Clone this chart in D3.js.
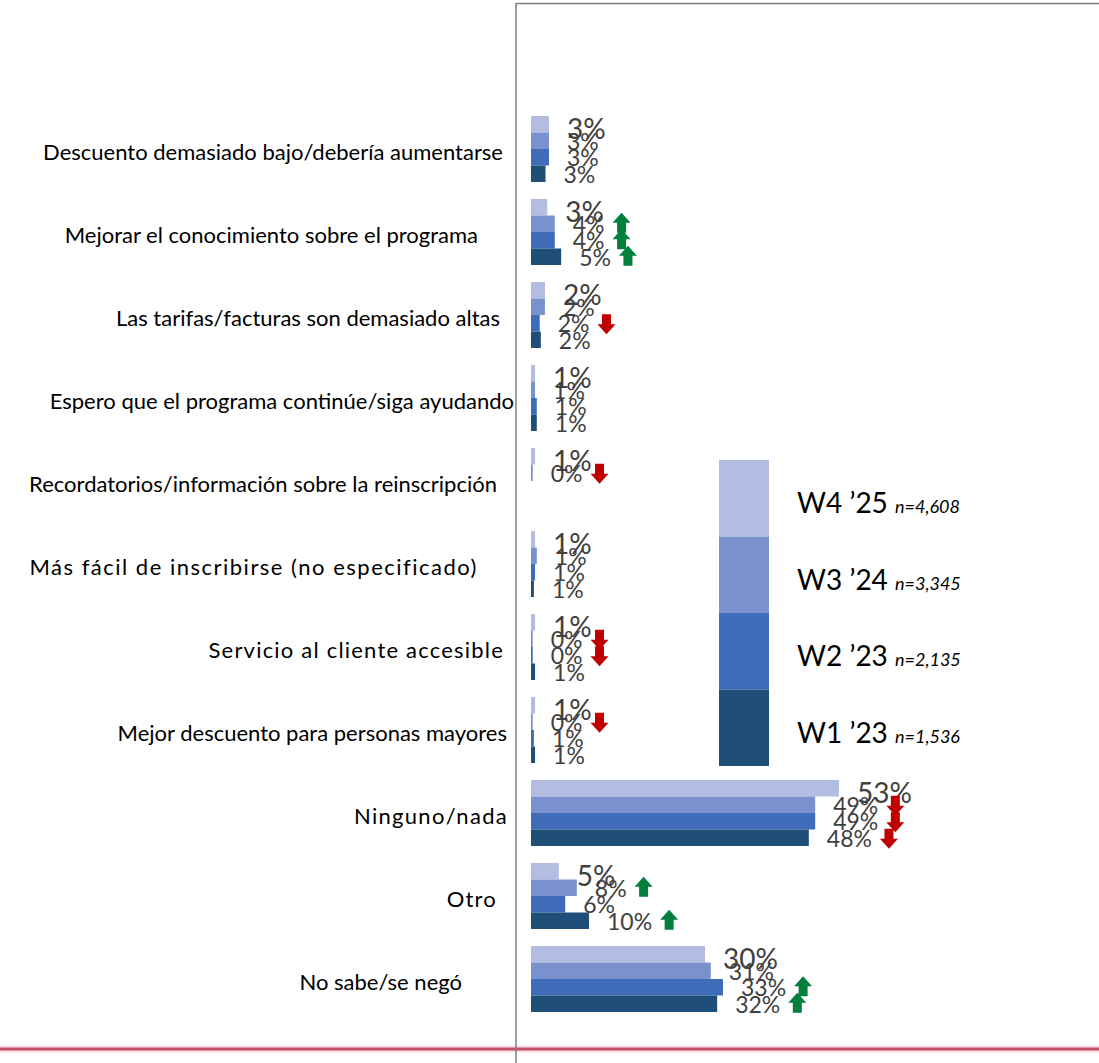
<!DOCTYPE html>
<html>
<head>
<meta charset="utf-8">
<script src="https://cdn.jsdelivr.net/npm/d3@7"></script>
<style>
  body { margin: 0; background: #fff; }
  svg { display: block; font-family: Lato, "Open Sans", sans-serif; }
</style>
</head>
<body>
<svg id="chart" width="1099" height="1063"></svg>
<script>
// categories, top to bottom
const categories = [
  "Descuento demasiado bajo/debería aumentarse",
  "Mejorar el conocimiento sobre el programa",
  "Las tarifas/facturas son demasiado altas",
  "Espero que el programa continúe/siga ayudando",
  "Recordatorios/información sobre la reinscripción",
  "Más fácil de inscribirse (no especificado)",
  "Servicio al cliente accesible",
  "Mejor descuento para personas mayores",
  "Ninguno/nada",
  "Otro",
  "No sabe/se negó"
];
const series = ["W4 \u201925", "W3 \u201924", "W2 \u201923", "W1 \u201923"];
const seriesN = ["n=4,608", "n=3,345", "n=2,135", "n=1,536"];

// percent values per wave (null = not asked)
const w4 = [3.1, 2.8, 2.4, 0.7, 0.7, 0.7, 0.7, 0.7, 53.1, 4.8, 30.0];
const w3 = [3.1, 4.1, 2.4, 0.7, 0.3, 1.0, 0.3, 0.3, 49.0, 7.9, 31.0];
const w2 = [3.1, 4.1, 1.5, 1.0, null, 0.7, 0.3, 0.5, 49.0, 5.9, 33.1];
const w1 = [2.5, 5.2, 1.7, 1.0, null, 0.5, 0.7, 0.7, 47.9, 10.0, 32.1];

// significance arrows vs current wave
const sigW4 = [null, null, null, null, null, null, null, null, null, null, null];
const sigW3 = [null, "up", null, null, "down", null, "down", "down", "down", "up", null];
const sigW2 = [null, "up", "down", null, null, null, "down", null, "down", null, "up"];
const sigW1 = [null, "up", null, null, null, null, null, null, "down", "up", "up"];

const colors = ["#b3bde1", "#7992ce", "#3e6cb9", "#1f4e79"];
// label right edges and spacing (style only)
const labelRight = [503, 478, 500, 514, 497, 478, 504, 507, 508, 497, 462];
const labelSpacing = [0, 0, 0, 0, 0, 1.5, 1.2, 0, 1.3, 1.2, 0];

const values = [w4, w3, w2, w1];
const sigs = [sigW4, sigW3, sigW2, sigW1];

const svg = d3.select("#chart");

const y = d3.scaleBand()
  .domain(categories)
  .range([107.5, 1020.5])
  .paddingInner(0.205)
  .paddingOuter(0.1025);
const ySub = d3.scaleBand()
  .domain(series)
  .range([0, y.bandwidth()]);
const x = d3.scaleLinear().domain([0, 100]).range([531, 1111]);

// frame
svg.append("line")
  .attr("x1", 516).attr("x2", 1099).attr("y1", 3.5).attr("y2", 3.5)
  .attr("stroke", "#7f7f7f").attr("stroke-width", 1.5);
svg.append("line")
  .attr("x1", 0).attr("x2", 1099).attr("y1", 1049).attr("y2", 1049)
  .attr("stroke", "#e8a0aa").attr("stroke-width", 7).attr("opacity", 0.35);
svg.append("line")
  .attr("x1", 0).attr("x2", 1099).attr("y1", 1049).attr("y2", 1049)
  .attr("stroke", "#c0506a").attr("stroke-width", 3);
svg.append("line")
  .attr("x1", 516).attr("x2", 516).attr("y1", 3).attr("y2", 1063)
  .attr("stroke", "#7f7f7f").attr("stroke-width", 1.5);

// category labels
svg.append("g").selectAll("text")
  .data(categories)
  .join("text")
  .attr("x", (d, i) => labelRight[i])
  .attr("y", d => y(d) + y.bandwidth() / 2 + 2)
  .attr("text-anchor", "end")
  .attr("dominant-baseline", "central")
  .style("letter-spacing", (d, i) => labelSpacing[i] + "px")
  .style("font-size", "22px")
  .style("fill", "#000")
  .text(d => d);

// flatten rows
const rows = [];
categories.forEach((c, ci) => {
  series.forEach((s, si) => {
    const v = values[si][ci];
    if (v == null) return;
    rows.push({ cat: c, s: s, si: si, v: v, sig: sigs[si][ci] });
  });
});

svg.append("g").selectAll("rect")
  .data(rows)
  .join("rect")
  .attr("x", x(0))
  .attr("y", d => y(d.cat) + ySub(d.s))
  .attr("width", d => x(d.v) - x(0))
  .attr("height", ySub.bandwidth())
  .attr("fill", d => colors[d.si]);

const labels = svg.append("g").selectAll("text")
  .data(rows)
  .join("text")
  .attr("x", d => x(d.v) + 18)
  .attr("y", d => y(d.cat) + ySub(d.s) + ySub.bandwidth() / 2 + (d.si == 0 ? 15 : 9))
  .style("font-size", d => d.si == 0 ? "28px" : "23px")
  .style("fill", "#404040")
  .text(d => Math.round(d.v) + "%");

// arrows
const upPath = "M9,0 L18,10 L13.5,10 L13.5,20 L4.5,20 L4.5,10 L0,10 Z";
const downPath = "M4.5,0 L13.5,0 L13.5,10 L18,10 L9,20 L0,10 L4.5,10 Z";
labels.each(function(d) {
  if (!d.sig) return;
  const end = +this.getAttribute("x") + this.getComputedTextLength();
  const cy = y(d.cat) + ySub(d.s) + ySub.bandwidth() / 2 + (d.sig == "up" ? -1 : 1);
  svg.append("path")
    .attr("d", d.sig == "up" ? upPath : downPath)
    .attr("transform", `translate(${end + 8},${cy - 10})`)
    .attr("fill", d.sig == "up" ? "#00803c" : "#c00000");
});

// legend
const ly = d3.scaleBand().domain(series).range([460, 766]);
const legend = svg.append("g").selectAll("g")
  .data(series)
  .join("g");
legend.append("rect")
  .attr("x", 719)
  .attr("y", d => ly(d))
  .attr("width", 50)
  .attr("height", ly.bandwidth())
  .attr("fill", (d, i) => colors[i]);
const lt = legend.append("text")
  .attr("x", 797)
  .attr("y", d => ly(d) + ly.bandwidth() / 2 + 15)
  .style("fill", "#000");
lt.append("tspan")
  .style("font-size", "28px")
  .text(d => d + " ");
lt.append("tspan")
  .style("font-size", "18px")
  .style("font-style", "italic")
  .text((d, i) => seriesN[i]);
</script>
</body>
</html>
